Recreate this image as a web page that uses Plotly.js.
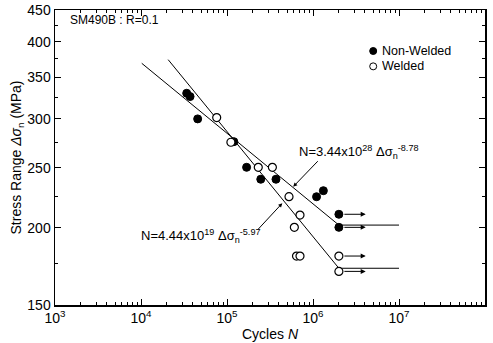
<!DOCTYPE html>
<html>
<head>
<meta charset="utf-8">
<script src="https://cdn.plot.ly/plotly-3.0.1.min.js"></script>
<style>html,body{margin:0;padding:0;background:#fff;}#chart{width:493px;height:343px;}</style>
</head>
<body>
<div id="chart"></div>
<script>
// Data
var nonWeldedN = [3.40e4, 3.72e4, 4.56e4, 1.20e5, 1.69e5, 2.47e5, 3.71e5, 1.10e6, 1.32e6, 2.0e6, 2.0e6];
var nonWeldedS = [330, 326, 300, 275.6, 250.5, 239.6, 239.6, 224.5, 229.6, 210.3, 200.3];
var weldedN = [7.59e4, 1.11e5, 2.31e5, 3.37e5, 5.26e5, 7.06e5, 6.07e5, 6.43e5, 7.06e5, 2.0e6, 2.0e6];
var weldedS = [301.5, 275, 250.5, 250.5, 224.5, 209.7, 200.3, 180, 180, 180, 170];
// Fitted S-N lines (with horizontal continuation)
var nwLineN = [1.02e4, 2.0e6, 1.0e7];
var nwLineS = [369, 202, 202];
var wLineN = [2.07e4, 2.0e6, 1.0e7];
var wLineS = [374, 172, 172];
// Run-outs
var runoutN = [2.0e6, 2.0e6, 2.0e6, 2.0e6];
var runoutS = [210.3, 200.3, 180, 170];
var runoutEndN = 4.1e6;
// Tick labels
var xTickVals = [1e3, 1e4, 1e5, 1e6, 1e7, 1e8];
var xTickText = ['10<sup>3</sup>', '10<sup>4</sup>', '10<sup>5</sup>', '10<sup>6</sup>', '10<sup>7</sup>', '10<sup>8</sup>'];
var yTickVals = [150, 200, 250, 300, 350, 400, 450];
var yTickText = ['150', '200', '250', '300', '350', '400', '450'];
var yMinorVals = [175, 225, 275, 325, 375, 425];

var xMinor = [];
for (var d = 3; d < 8; d++) { for (var k = 2; k <= 9; k++) { xMinor.push(k * Math.pow(10, d)); } }

var fam = 'Arial, "Liberation Sans", Helvetica, sans-serif';
function f(size) { return {family: fam, color: '#000', size: size}; }

var traces = [
  {x: nwLineN, y: nwLineS, mode: 'lines', line: {color: '#000', width: 1}, hoverinfo: 'skip', showlegend: false},
  {x: wLineN, y: wLineS, mode: 'lines', line: {color: '#000', width: 1}, hoverinfo: 'skip', showlegend: false},
  {x: nonWeldedN, y: nonWeldedS, mode: 'markers', name: 'Non-Welded',
   marker: {symbol: 'circle', size: 8, color: '#000', line: {color: '#000', width: 1}}, showlegend: false},
  {x: weldedN, y: weldedS, mode: 'markers', name: 'Welded',
   marker: {symbol: 'circle', size: 8, color: '#fff', line: {color: '#000', width: 1.2}}, showlegend: false}
];

var annotations = [];
for (var i = 0; i < runoutN.length; i++) {
  annotations.push({
    x: Math.log10(runoutEndN), y: Math.log10(runoutS[i]), xref: 'x', yref: 'y',
    ax: Math.log10(runoutN[i]), ay: Math.log10(runoutS[i]), axref: 'x', ayref: 'y',
    text: '', showarrow: true, arrowhead: 2, arrowsize: 1, arrowwidth: 1, arrowcolor: '#000',
    startstandoff: 4
  });
}
// equation labels
annotations.push({xref: 'paper', yref: 'paper', x: 0.563, y: 0.519, xanchor: 'left', yanchor: 'middle',
  text: 'N=3.44x10<sup>28</sup> Δσ<sub>n</sub><sup>-8.78</sup>', showarrow: false, font: f(13)});
annotations.push({xref: 'paper', yref: 'paper', x: 0.196, y: 0.234, xanchor: 'left', yanchor: 'middle',
  text: 'N=4.44x10<sup>19</sup> Δσ<sub>n</sub><sup>-5.97</sup>', showarrow: false, font: f(13)});
// pointer arrows
annotations.push({xref: 'paper', yref: 'paper', x: 0.554, y: 0.401, ax: 26, ay: -27, text: '',
  showarrow: true, arrowhead: 2, arrowsize: 0.8, arrowwidth: 1, arrowcolor: '#000'});
annotations.push({xref: 'paper', yref: 'paper', x: 0.5286, y: 0.345, ax: -26, ay: 28, text: '',
  showarrow: true, arrowhead: 2, arrowsize: 0.8, arrowwidth: 1, arrowcolor: '#000'});
// label and legend
annotations.push({xref: 'paper', yref: 'paper', x: 0.030, y: 0.966, xanchor: 'left', yanchor: 'middle',
  text: 'SM490B : R=0.1', showarrow: false, font: f(12)});
annotations.push({xref: 'paper', yref: 'paper', x: 0.758, y: 0.861, xanchor: 'left', yanchor: 'middle',
  text: 'Non-Welded', showarrow: false, font: f(12.5), height: 12, borderpad: 0});
annotations.push({xref: 'paper', yref: 'paper', x: 0.758, y: 0.809, xanchor: 'left', yanchor: 'middle',
  text: 'Welded', showarrow: false, font: f(12.5), height: 12, borderpad: 0});

var shapes = [
  {type: 'circle', xref: 'paper', yref: 'paper', xsizemode: 'pixel', ysizemode: 'pixel',
   xanchor: 0.740, yanchor: 0.861, x0: -3.5, x1: 3.5, y0: -3.5, y1: 3.5, fillcolor: '#000', line: {color: '#000', width: 1}},
  {type: 'circle', xref: 'paper', yref: 'paper', xsizemode: 'pixel', ysizemode: 'pixel',
   xanchor: 0.740, yanchor: 0.809, x0: -3.5, x1: 3.5, y0: -3.5, y1: 3.5, fillcolor: '#fff', line: {color: '#000', width: 1}}
];

var axisCommon = {showline: true, linecolor: '#000', linewidth: 1.5, mirror: 'ticks', ticks: 'inside',
  ticklen: 6, tickwidth: 1, tickcolor: '#000', showgrid: false, zeroline: false, tickfont: f(14)};

var layout = {
  width: 493, height: 343,
  margin: {l: 55, r: 8, t: 10, b: 38},
  paper_bgcolor: '#fff', plot_bgcolor: '#fff',
  showlegend: false,
  xaxis: Object.assign({}, axisCommon, {
    type: 'log', range: [3, 8], tickmode: 'array', tickvals: xTickVals, ticktext: xTickText,
    minor: {tickmode: 'array', tickvals: xMinor, ticks: 'inside', ticklen: 3, tickcolor: '#000', tickwidth: 1},
    title: {text: 'Cycles <i>N</i>', font: f(14), standoff: 4}
  }),
  yaxis: Object.assign({}, axisCommon, {
    type: 'log', range: [Math.log10(150), Math.log10(450)], tickmode: 'array', tickvals: yTickVals, ticktext: yTickText,
    minor: {tickmode: 'array', tickvals: yMinorVals, ticks: 'inside', ticklen: 3, tickcolor: '#000', tickwidth: 1},
    title: {text: 'Stress Range <i>Δσ</i><sub>n</sub> (MPa)', font: f(14), standoff: 2}
  }),
  annotations: annotations,
  shapes: shapes
};

Plotly.newPlot('chart', traces, layout, {displayModeBar: false, staticPlot: true});
</script>
</body>
</html>
